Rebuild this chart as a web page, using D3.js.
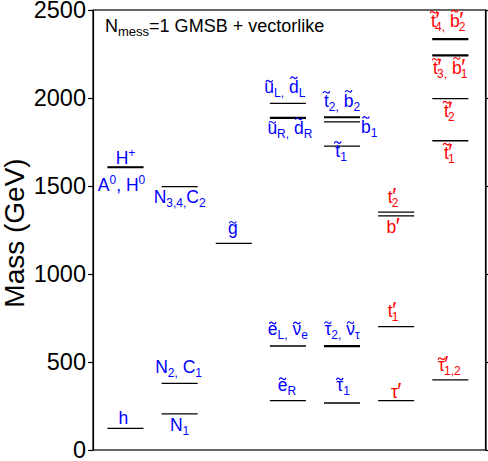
<!DOCTYPE html>
<html>
<head>
<meta charset="utf-8">
<title>GMSB + vectorlike spectrum</title>
<script src="https://d3js.org/d3.v7.min.js"></script>
<style>
  body { margin: 0; background: #fff; }
  svg { font-family: "Liberation Sans", Arial, sans-serif; }
  .level { stroke: #000; stroke-width: 1.3; }
  .axis path, .axis line { stroke: #000; stroke-width: 1.2; }
  .axis text { font-size: 23.5px; fill: #000; font-family: "Liberation Sans", Arial, sans-serif; }
</style>
</head>
<body>
<div id="chart"></div>
<script>
// mass levels in GeV, column = which stack they sit in
var levelNames  = ["h", "Hp", "AH", "N34", "N2", "N1", "gluino",
                   "uL", "uR", "dR", "eL", "eR",
                   "t2", "b2", "b1", "t1", "tau2", "nutau", "tau1",
                   "tp2", "bp", "tp1", "taup",
                   "staup12", "stp4", "sbp2", "stp3", "sbp1", "stp2", "stp1"];
var levelMass   = [123, 1609, 1605, 1496, 379, 205, 1174,
                   1970, 1890, 1885, 591, 280,
                   1893, 1888, 1864, 1727, 593, 588, 267,
                   1351, 1330, 701, 280,
                   399, 2337, 2332, 2245, 2240, 1996, 1757];
var levelColumn = [0, 0, 0, 1, 1, 1, 2,
                   3, 3, 3, 3, 3,
                   4, 4, 4, 4, 4, 4, 4,
                   5, 5, 5, 5,
                   6, 6, 6, 6, 6, 6, 6];

// labels: text markup (~ tilde, _ sub, ^ sup), level it belongs to, sector
var labelText   = ["h", "H^+", "A^0, H^0",
                   "N_{3,4,}C_2", "N_{2,} C_1", "N_1",
                   "~g",
                   "~u_{L,} ~d_L", "~u_{R,} ~d_R", "~e_{L,} ~ν_e", "~e_R",
                   "~t_{2,} ~b_2", "~b_1", "~t_1", "~τ_{2,} ~ν_τ", "~τ_1",
                   "t′_2", "b′", "t′_1", "τ′",
                   "~τ′_{1,2}", "~t′_{4,} ~b′_2", "~t′_{3,} ~b′_1", "~t′_2", "~t′_1"];
var labelLevel  = ["h", "Hp", "Hp",
                   "N34", "N2", "N1",
                   "gluino",
                   "uL", "uR", "eL", "eR",
                   "t2", "b1", "t1", "tau2", "tau1",
                   "tp2", "bp", "tp1", "taup",
                   "staup12", "stp4", "stp3", "stp2", "stp1"];
var labelSector = ["mssm", "mssm", "mssm", "mssm", "mssm", "mssm", "mssm",
                   "mssm", "mssm", "mssm", "mssm",
                   "mssm", "mssm", "mssm", "mssm", "mssm",
                   "vl", "vl", "vl", "vl",
                   "vl", "vl", "vl", "vl", "vl"];

var yTicks = [0, 500, 1000, 1500, 2000, 2500];

// label placement relative to the line centre (pixels)
var labelLayout = [
  [-2, -4], [0, -3], [-4, 24],
  [0, 16], [-1, -10], [0, 17],
  [-1, -9],
  [-3, -10], [2, 17], [0, -11], [-1, -10],
  [0, -10], [19, 11, "start"], [-1, 11], [0, -11], [1, -12],
  [-3, -9], [-3, 17], [-3, -10], [0, -3],
  [-1, -9], [-2, -12], [0, 19], [-1, 18], [-1, 18]
];

var W = 488, H = 461;
var svg = d3.select("#chart").append("svg").attr("width", W).attr("height", H);

var x = d3.scaleLinear().domain([-0.6, 6.65]).range([93, 485.5]);
var y = d3.scaleLinear().domain([0, 2500]).range([450, 10]);
var color = d3.scaleOrdinal().domain(["mssm", "vl"]).range(["#0000ff", "#ff0000"]);
var half = 0.333;

// axes: minor ticks inward, major ticks outward
var gL = svg.append("g").attr("class", "axis").attr("transform", "translate(93,0)");
gL.call(d3.axisLeft(y).tickValues(d3.range(0, 2501, 100)).tickSize(-5).tickSizeOuter(0).tickFormat(""));
gL.call(d3.axisLeft(y).tickValues(yTicks).tickSize(5).tickSizeOuter(0).tickPadding(2).tickFormat(d3.format("d")));
var gR = svg.append("g").attr("class", "axis").attr("transform", "translate(485.5,0)");
gR.call(d3.axisRight(y).tickValues(d3.range(0, 2501, 100)).tickSize(-5).tickSizeOuter(0).tickFormat(""));
gR.call(d3.axisRight(y).tickValues(yTicks).tickSize(5).tickSizeOuter(0).tickFormat(""));
svg.append("rect").attr("x", 93).attr("y", 10).attr("width", 392.5).attr("height", 440)
  .attr("fill", "none").attr("stroke", "#000").attr("stroke-width", 1.2);

svg.append("text")
  .attr("transform", "translate(24,233) rotate(-90)")
  .attr("text-anchor", "middle")
  .style("font-size", "28px")
  .text("Mass (GeV)");

// levels
var levels = levelNames.map(function(n, i) { return {name: n, mass: levelMass[i], col: levelColumn[i]}; });
svg.selectAll(".level").data(levels).enter().append("line")
  .attr("class", "level")
  .attr("x1", function(d) { return x(d.col - half); })
  .attr("x2", function(d) { return x(d.col + half); })
  .attr("y1", function(d) { return y(d.mass); })
  .attr("y2", function(d) { return y(d.mass); });

function tokens(s) {
  var out = [], i = 0, tilde = false;
  while (i < s.length) {
    var c = s[i];
    if (c === "~") { tilde = true; i++; continue; }
    if (c === "_" || c === "^") {
      var body;
      if (s[i + 1] === "{") { var j = s.indexOf("}", i); body = s.slice(i + 2, j); i = j + 1; }
      else { body = s[i + 1]; i += 2; }
      out.push({text: body, kind: c === "_" ? "sub" : "sup"});
      continue;
    }
    out.push({text: c, kind: c === "′" ? "prime" : "base", tilde: tilde});
    tilde = false; i++;
  }
  return out;
}

function tildePath(cx, cy) {
  return "M" + (cx - 3.4) + "," + (cy + 1) +
    " C" + (cx - 2.3) + "," + (cy - 1.8) + " " + (cx - 1) + "," + (cy - 0.8) + " " + cx + "," + cy +
    " S" + (cx + 2.3) + "," + (cy + 1.8) + " " + (cx + 3.4) + "," + (cy - 1);
}

function drawLabel(str, px, py, anchor, fill, big, small) {
  var t = svg.append("text").attr("x", px).attr("y", py)
    .attr("text-anchor", anchor).attr("fill", fill).style("font-size", big + "px");
  var shift = 0, prev = null, idx = 0, marks = [];
  tokens(str).forEach(function(tk) {
    var target = tk.kind === "sub" ? 4 : tk.kind === "sup" ? -7 : 0;
    var sp = t.append("tspan").attr("dy", target - shift).text(tk.text);
    if (tk.kind === "sub" || tk.kind === "sup") sp.style("font-size", small + "px");
    if (tk.kind === "prime") sp.style("font-size", (big * 1.25) + "px").attr("dx", -0.5);
    if (tk.kind === "sub" && prev === "prime") sp.attr("dx", -4.5);
    shift = target;
    if (tk.tilde) marks.push({idx: idx, ch: tk.text});
    idx += tk.text.length;
    prev = tk.kind;
  });
  marks.forEach(function(m) {
    var a = t.node().getStartPositionOfChar(m.idx), b = t.node().getEndPositionOfChar(m.idx);
    var cx = (a.x + b.x) / 2;
    var top = py - ("bd".indexOf(m.ch) >= 0 ? 15.5 : m.ch === "t" ? 14.5 : 12);
    svg.append("path").attr("d", tildePath(cx, top))
      .attr("fill", "none").attr("stroke", fill).attr("stroke-width", 1.15);
  });
}

labelText.forEach(function(s, i) {
  var lv = levels[levelNames.indexOf(labelLevel[i])];
  var lay = labelLayout[i];
  drawLabel(s, x(lv.col) + lay[0], y(lv.mass) + lay[1], lay[2] || "middle",
    color(labelSector[i]), 17.5, 12);
});

drawLabel("N_{mess}=1 GMSB + vectorlike", 105, 32, "start", "#000", 18, 13);
</script>
</body>
</html>
